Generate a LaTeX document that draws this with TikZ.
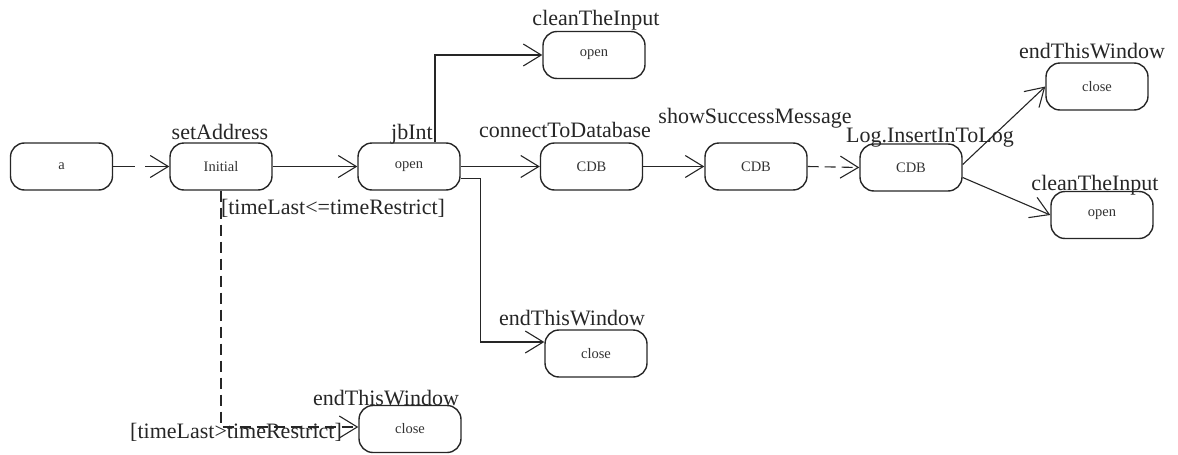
\documentclass[tikz,border=0pt]{standalone}
\usepackage{fontspec}
\setmainfont{Liberation Serif}
\usetikzlibrary{arrows.meta}
\tikzset{
  state/.style={draw=black!85, line width=1.4pt, rounded corners=14pt, minimum width=102pt, minimum height=47pt, inner sep=0pt, font=\fontsize{14.5}{16}\selectfont, text=black!80},
  lbl/.style={anchor=base, inner sep=0pt, font=\fontsize{22}{24}\selectfont, text=black!85},
  conn/.style={line width=1.1pt, draw=black!85, -{Straight Barb[length=18pt,width=22pt,line width=1.1pt]}},
  dsh/.style={dash pattern=on 11pt off 6pt},
}
\begin{document}
\begin{tikzpicture}[x=1pt,y=-1pt]
\useasboundingbox (0,0) rectangle (1178,455);
\node[state] (a) at (61.5,166.5) {a};
\node[state] (init) at (221,166.5) {Initial};
\node[state] (open1) at (409,166.5) {open};
\node[state] (cti1) at (594,55) {open};
\node[state] (cdb1) at (591.5,166.5) {CDB};
\node[state] (cdb2) at (756,166.5) {CDB};
\node[state] (cdb3) at (911,167.5) {CDB};
\node[state] (etw1) at (1097,86.5) {close};
\node[state] (cti2) at (1102,215) {open};
\node[state] (etw2) at (596,353.5) {close};
\node[state] (etw3) at (410,429) {close};

\node[lbl] (l1) at (220,139) {setAddress};
\node[lbl] (l2) at (412,139) {jbInt};
\node[lbl] (l3) at (596,25) {cleanTheInput};
\node[lbl] (l4) at (565,137) {connectToDatabase};
\node[lbl] (l5) at (755,123) {showSuccessMessage};
\node[lbl] (l6) at (930,142) {Log.InsertInToLog};
\node[lbl] (l7) at (1092,58) {endThisWindow};
\node[lbl] (l8) at (1095,190) {cleanTheInput};
\node[lbl] (l9) at (333,214) {[timeLast<=timeRestrict]};
\node[lbl] (l10) at (572,325) {endThisWindow};
\node[lbl] (l11) at (386,405) {endThisWindow};
\node[lbl] (l12) at (236,438) {[timeLast>timeRestrict]};

\draw[conn, dash pattern=on 22pt off 10pt] (a.east) -- (init.west);
\draw[conn] (init.east) -- (open1.west);
\draw[conn] ([xshift=26pt]open1.north) |- (cti1.west);
\draw[conn] (open1.east) -- (cdb1.west);
\draw[conn] ([yshift=-12pt]open1.east) -- ++(20,0) |- ([yshift=11.5pt]etw2.west);
\draw[conn] (cdb1.east) -- (cdb2.west);
\draw[conn, dsh] (cdb2.east) -- (cdb3.west);
\draw[conn] ([yshift=3pt]cdb3.east) -- (etw1.west);
\draw[conn] ([yshift=-10pt]cdb3.east) -- (cti2.west);
\draw[conn, dsh] (init.south) |- ([yshift=2pt]etw3.west);
\end{tikzpicture}
\end{document}
